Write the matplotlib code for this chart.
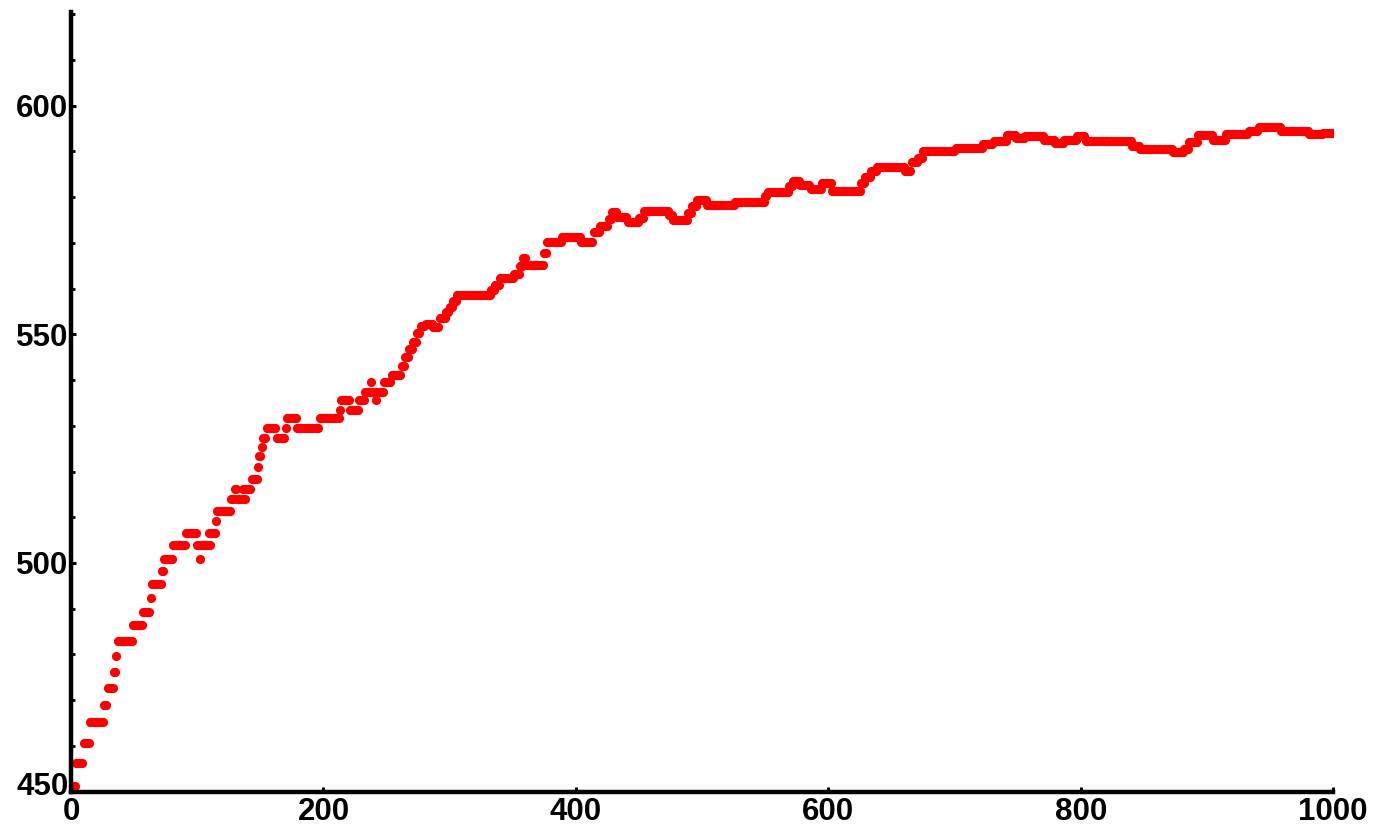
import numpy as np
import matplotlib
matplotlib.use("Agg")
import matplotlib.pyplot as plt
import matplotlib.transforms as mtransforms
from matplotlib.ticker import MultipleLocator

# step runs: first x, last x, level
run_start = [1, 4, 10, 15, 26, 29, 34, 36, 37, 49, 57, 63, 64, 72, 74, 81, 91,
             100, 102, 103, 109, 110, 111, 115, 116, 127, 130, 132, 136, 137, 139,
             143, 148, 149, 151, 152, 155, 163, 170, 171, 179, 197, 213, 214, 221,
             228, 233, 238, 239, 242, 243, 248, 254,
             262, 265, 268, 271, 274, 277, 281, 287, 292, 297, 300, 303, 306, 333,
             336, 340, 351, 356, 358, 361, 375, 377, 389, 404, 414, 419, 426, 429,
             433, 441, 450, 454, 474, 477, 489, 492, 496, 504, 526, 550, 552, 569,
             572, 578, 586, 595, 603, 626, 629, 634, 639, 661, 666, 671, 675, 701,
             723, 731, 742, 749, 756, 771, 780, 787, 797, 804, 841, 847, 873, 882,
             886, 893, 905, 915, 933, 941, 959, 981, 992]
run_end = [3, 9, 14, 25, 28, 33, 35, 36, 48, 56, 62, 63, 71, 73, 80, 90, 99,
           101, 102, 108, 109, 110, 114, 115, 126, 129, 131, 135, 136, 138, 142,
           147, 148, 150, 151, 154, 162, 169, 170, 178, 196, 212, 213, 220, 227,
           232, 237, 238, 241, 242, 247, 253, 261,
           264, 267, 270, 273, 276, 280, 286, 291, 296, 299, 302, 305, 332, 335,
           339, 350, 355, 357, 360, 374, 376, 388, 403, 413, 418, 425, 428, 432,
           440, 449, 453, 473, 476, 488, 491, 495, 503, 525, 549, 551, 568, 571,
           577, 585, 594, 602, 625, 628, 633, 638, 660, 665, 670, 674, 700, 722,
           730, 741, 748, 755, 770, 779, 786, 796, 803, 840, 846, 872, 881, 885,
           892, 904, 914, 932, 940, 958, 980, 991, 1000]
run_level = [451.2, 456.2, 460.7, 465.1, 468.9, 472.6, 476.2, 479.6, 483.0, 486.4,
             489.3, 492.3, 495.3, 498.3, 500.9, 503.9, 506.5,
             503.9, 500.9, 503.9, 506.5, 503.9, 506.5, 509.2, 511.4, 514.0, 516.2,
             514.0, 516.2, 514.0, 516.2, 518.4, 521.0, 523.3, 525.3, 527.4, 529.6,
             527.4, 529.6, 531.7, 529.6, 531.7, 533.5, 535.7, 533.5, 535.7, 537.5,
             539.5, 537.5, 535.7, 537.5, 539.5, 541.1,
             543.0, 545.0, 546.7, 548.3, 550.3, 551.8, 552.3, 551.5, 553.5, 554.8,
             556.0, 557.4, 558.6, 559.6, 560.8, 562.3, 563.2, 565.0, 566.7, 565.2,
             567.8, 570.2, 571.4, 570.3, 572.3, 573.8, 575.3, 576.7, 575.6, 574.5,
             575.5, 577.0, 576.0, 575.0, 576.5, 578.0, 579.4, 578.2, 579.0, 580.2,
             581.2, 582.5, 583.6, 582.7, 581.8, 583.0, 581.4, 583.0, 584.5, 585.7,
             586.6, 585.7, 587.7, 588.6, 590.2, 590.8, 591.6, 592.3, 593.6, 592.9,
             593.3, 592.6, 591.9, 592.6, 593.3, 592.4, 591.2, 590.5, 589.8, 590.6,
             592.0, 593.5, 592.6, 593.8, 594.5, 595.4, 594.4, 593.8, 594.1]

x_ticks = [0, 200, 400, 600, 800, 1000]
y_ticks = [450, 500, 550, 600]

xs = np.concatenate([np.arange(a, b + 1) for a, b in zip(run_start, run_end)])
counts = [b - a + 1 for a, b in zip(run_start, run_end)]
ys = np.repeat(run_level, counts)

plt.rcParams['font.family'] = ['Liberation Sans', 'DejaVu Sans']

fig = plt.figure(figsize=(13.82, 8.31), dpi=100)
ax = fig.add_axes([0.0514, 0.0475, 0.9132, 0.938])

ax.plot(xs, ys, linestyle='none', marker='o', markersize=6.6,
        markerfacecolor='#ff0000', markeredgewidth=0, zorder=1)

ax.set_xlim(0, 1000)
ax.set_ylim(450, 620.5)
ax.set_xticks(x_ticks)
ax.set_yticks(y_ticks)
ax.yaxis.set_minor_locator(MultipleLocator(10))

for side in ['top', 'right']:
    ax.spines[side].set_visible(False)
for side in ['left', 'bottom']:
    ax.spines[side].set_linewidth(3.2)
    ax.spines[side].set_color('black')
    ax.spines[side].set_zorder(3)

ax.tick_params(axis='both', which='major', direction='in', length=3.5, width=2.2,
               labelsize=22.5, color='black')
ax.tick_params(axis='y', which='minor', direction='in', length=3, width=2.0)
ax.tick_params(axis='y', which='major', pad=2)
ax.tick_params(axis='x', which='major', pad=4)
for lab in ax.get_xticklabels() + ax.get_yticklabels():
    lab.set_fontweight('bold')

# lift the lowest y label a little, so it clears the "0" below it
lift = mtransforms.ScaledTranslation(0, 8 / 100, fig.dpi_scale_trans)
first = ax.get_yticklabels()[0]
first.set_transform(first.get_transform() + lift)

fig.savefig("out.png", dpi=100)
